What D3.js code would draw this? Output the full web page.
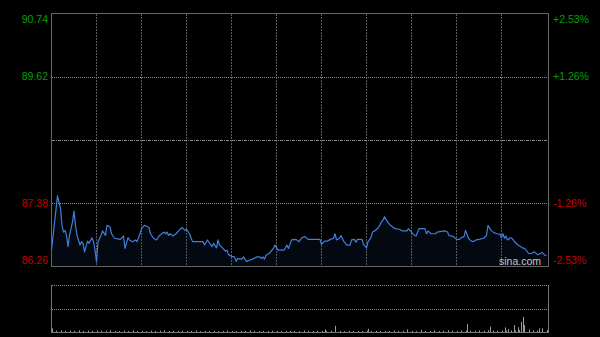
<!DOCTYPE html>
<html><head><meta charset="utf-8">
<script src="https://cdn.jsdelivr.net/npm/d3@7/dist/d3.min.js"></script>
<style>html,body{margin:0;padding:0;background:#000;overflow:hidden}</style>
</head><body><svg id="c" width="600" height="337"></svg>
<script>
// ---- data ----
const prevClose = 88.50;
const priceTicks = [90.74, 89.62, 88.50, 87.38, 86.26];
const pctLabels = ["+2.53%", "+1.26%", "", "-1.26%", "-2.53%"];
const timeTicks = [30, 60, 90, 120, 150, 180, 210, 240, 270, 300];

const minutes = [0,4,6,7,8,9,10,11,12,13,14,15,16,17,19,20,21,22,24,25,27,28,29,30,31,33,34,36,37,39,40,42,46,48,49,51,52,54,56,57,59,60,62,65,66,68,70,72,75,76,77,78,79,81,83,85,87,89,90,92,94,101,102,104,107,108,110,111,
112,114,116,117,118,120,122,123,124,127,128,130,132,134,137,139,140,141,142,143,145,148,149,151,155,157,158,160,163,165,167,169,171,179,180,182,184,186,188,189,190,192,193,195,197,199,200,202,203,204,207,208,210,211,213,214,216,218,220,221,222,224,226,229,232,234,237,238,240,242,243,245,249,250,251,253,256,257,262,264,265,268,270,272,273,275,276,278,279,281,283,285,288,290,291,293,295,297,299,300,301,302,303,304,306,307,309,311,314,316,318,320,322,324,326,327,329,330];
const prices = [86.55,87.51,87.29,86.99,86.87,86.90,86.81,86.61,86.81,86.93,87.05,87.24,86.99,86.81,86.64,86.70,86.67,86.52,86.71,86.67,86.77,86.70,86.55,86.34,86.70,86.81,86.89,86.81,86.99,86.96,86.84,86.76,86.74,86.80,86.58,86.77,86.73,86.70,86.73,86.70,86.84,86.93,86.99,86.95,86.84,86.76,86.73,86.81,86.87,86.84,86.87,86.81,86.84,86.80,86.84,86.90,86.95,86.90,86.92,86.84,86.70,86.70,86.64,86.73,86.61,86.67,86.59,86.73,
86.64,86.59,86.53,86.55,86.47,86.44,86.43,86.35,86.40,86.39,86.43,86.35,86.37,86.39,86.43,86.43,86.40,86.43,86.39,86.46,86.49,86.58,86.64,86.55,86.55,86.64,86.58,86.73,86.74,86.70,86.77,86.79,86.74,86.74,86.65,86.71,86.71,86.74,86.76,86.84,86.73,86.76,86.81,86.70,86.64,86.64,86.73,86.74,86.69,86.74,86.74,86.65,86.59,86.70,86.77,86.87,86.90,86.95,87.05,87.08,87.14,87.05,86.99,86.93,86.92,86.89,86.89,86.93,86.87,86.81,86.80,86.93,86.93,86.84,86.89,86.84,86.84,86.87,86.89,86.87,86.81,86.79,86.74,86.74,86.77,86.79,86.90,86.76,86.73,86.70,86.73,86.74,86.76,86.81,86.99,86.90,86.86,86.84,86.83,86.77,86.84,86.76,86.80,86.73,86.77,86.76,86.69,86.64,86.59,86.57,86.49,86.49,86.52,86.47,86.49,86.51,86.46,86.45];

const volMinutes = [0,3,6,9,12,15,18,21,24,27,30,33,36,39,42,45,48,51,54,57,60,63,66,69,72,75,78,81,84,87,90,93,96,99,102,105,108,111,114,117,120,123,126,129,132,135,138,141,144,147,150,153,156,159,162,165,168,171,174,177,180,182,183,186,189,192,195,198,201,204,207,210,211,213,216,219,222,225,228,231,234,237,240,243,246,249,252,255,258,261,264,267,270,273,276,277,279,282,285,288,291,292,294,297,300,302,303,304,306,308,309,311,312,313,314,315,318,321,324,325,327,330];
const volValues = [4.7,1.8,2.2,1.5,2.0,1.6,2.4,1.4,1.9,1.3,2.1,1.6,1.4,2.3,1.5,1.2,1.8,1.4,2.2,1.3,1.7,1.2,1.9,1.4,1.6,2.5,1.3,1.5,1.2,1.8,1.4,1.3,2.0,1.2,1.5,1.3,1.7,1.2,1.4,1.9,1.3,1.2,1.6,1.3,2.2,1.4,1.2,1.5,1.3,1.8,1.4,1.2,1.6,1.3,1.5,1.2,1.9,1.4,1.3,1.6,1.4,3.4,1.3,1.7,8.0,1.4,1.3,1.6,1.2,1.5,1.3,1.8,4.2,1.4,1.6,1.3,1.5,1.2,1.9,1.4,1.3,3.4,1.4,1.2,2.6,1.5,1.3,2.2,1.4,1.6,2.4,1.5,1.3,2.0,1.6,10.2,1.8,1.4,2.1,1.6,2.4,6.8,1.7,1.5,2.0,6.0,1.8,3.8,2.2,8.9,2.0,6.0,2.4,13.2,19.5,8.9,3.4,2.2,2.0,4.7,4.7,2.6];
const volTop = 60;

// ---- layout ----
const L = 51.5, R = 548.5, T = 13.5, B = 266.5;
const VT = 285.5, VB = 332;
const svg = d3.select("#c");
svg.append("rect").attr("width", 600).attr("height", 337).attr("fill", "#000");

const x = d3.scaleLinear().domain([0, 330]).range([51.5, 546.5]);
const y = d3.scaleLinear().domain([priceTicks[4], priceTicks[0]]).range([B, T]);
const yv = d3.scaleLinear().domain([0, volTop]).range([VB, VT]);

const font = "'Liberation Sans', Arial, sans-serif";

// vertical grid lines (dotted, pixel aligned)
svg.append("g").selectAll("line").data(timeTicks).join("line")
  .attr("x1", d => Math.floor(x(d)) + 0.5).attr("x2", d => Math.floor(x(d)) + 0.5)
  .attr("y1", 14).attr("y2", 266)
  .attr("stroke", "#5a5a5a").attr("stroke-dasharray", "2,1");

// horizontal grid lines
svg.append("g").selectAll("line").data(priceTicks.slice(1, 4)).join("line")
  .attr("x1", 52).attr("x2", 548)
  .attr("y1", d => Math.round(y(d)) + 0.5).attr("y2", d => Math.round(y(d)) + 0.5)
  .attr("stroke", d => d === prevClose ? "#8a8a8a" : "#8a8a8a")
  .attr("stroke-dasharray", d => d === prevClose ? "3,1,1,1" : "1,1");

// area + line
const area = d3.area().x((d, i) => x(minutes[i])).y0(B).y1(d => y(d));
svg.append("path").datum(prices).attr("d", area).attr("fill", "rgba(40,80,170,0.10)");
const line = d3.line().x((d, i) => x(minutes[i])).y(d => y(d));
svg.append("path").datum(prices).attr("d", line)
  .attr("fill", "none").attr("stroke", "#3f7fdc").attr("stroke-width", 1.2)
  .attr("stroke-linejoin", "round");

// main frame
svg.append("rect").attr("x", L).attr("y", T).attr("width", R - L).attr("height", B - T)
  .attr("fill", "none").attr("stroke", "#666");

// left labels
const labelTicks = priceTicks.filter(d => d !== prevClose);
function labelY(d) {
  const i = priceTicks.indexOf(d);
  const yy = y(d);
  return i === 0 ? yy + 9 : (i === 4 ? yy - 3 : yy + 3.5);
}
svg.append("g").selectAll("text").data(labelTicks).join("text")
  .attr("x", 48).attr("y", labelY)
  .attr("text-anchor", "end").attr("font-family", font).attr("font-size", 10.5)
  .attr("fill", d => d > prevClose ? "#00a000" : "#c80000")
  .text(d => d.toFixed(2));

// right labels
svg.append("g").selectAll("text").data(labelTicks).join("text")
  .attr("x", 553).attr("y", labelY)
  .attr("text-anchor", "start").attr("font-family", font).attr("font-size", 10.5)
  .attr("fill", d => d > prevClose ? "#00a000" : "#c80000")
  .text(d => pctLabels[priceTicks.indexOf(d)]);

// watermark
svg.append("text").attr("x", 499).attr("y", 265).attr("font-family", font)
  .attr("font-size", 10.5).attr("fill", "#c8c8c8").text("sina.com");

// volume panel
svg.append("line").attr("x1", 52).attr("x2", 548).attr("y1", VT).attr("y2", VT)
  .attr("stroke", "#8a8a8a").attr("stroke-dasharray", "1,1");
svg.append("line").attr("x1", 52).attr("x2", 548).attr("y1", 309.5).attr("y2", 309.5)
  .attr("stroke", "#8a8a8a").attr("stroke-dasharray", "1,1");
svg.append("g").selectAll("rect").data(volValues).join("rect")
  .attr("x", (d, i) => Math.round(x(volMinutes[i])))
  .attr("width", 1)
  .attr("y", d => yv(d)).attr("height", d => VB - yv(d))
  .attr("fill", "#9a9a9a");
svg.append("line").attr("x1", L).attr("x2", R).attr("y1", VB + 0.5).attr("y2", VB + 0.5)
  .attr("stroke", "#777");
svg.append("line").attr("x1", L).attr("x2", L).attr("y1", VT - 0.5).attr("y2", VB + 1)
  .attr("stroke", "#777");
svg.append("line").attr("x1", R).attr("x2", R).attr("y1", VT - 0.5).attr("y2", VB + 1)
  .attr("stroke", "#777");
</script></body></html>
